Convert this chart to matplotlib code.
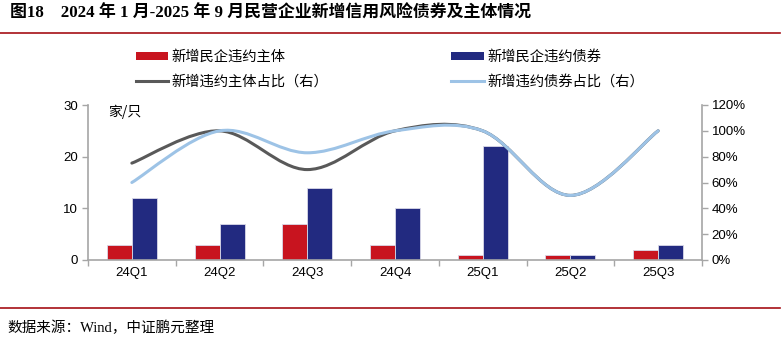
import matplotlib
matplotlib.use("Agg")
import matplotlib.pyplot as plt
import numpy as np
from matplotlib.path import Path
from matplotlib.patches import PathPatch
from matplotlib.lines import Line2D
from matplotlib.patches import Patch

plt.rcParams['font.family'] = ['Liberation Sans', 'Noto Sans CJK SC', 'DejaVu Sans']

categories = ['24Q1', '24Q2', '24Q3', '24Q4', '25Q1', '25Q2', '25Q3']
entities = [3, 3, 7, 3, 1, 1, 2]
bonds = [12, 7, 14, 10, 22, 1, 3]
entity_ratio = [75, 100, 70, 100, 100, 50, 100]
bond_ratio = [60, 100, 83, 100, 100, 50, 100]
left_ticks = [0, 10, 20, 30]
right_ticks = [0, 20, 40, 60, 80, 100, 120]

RED = '#C8141F'
NAVY = '#222A80'
GRAY = '#595959'
LBLUE = '#9DC3E6'
SPINE = '#A6A6A6'

fig = plt.figure(figsize=(7.82, 3.42), dpi=100)
ax = fig.add_axes([88/782, 1-260/342, (702-88)/782, (260-105)/342])
ax2 = ax.twinx()

x = np.arange(len(categories))
w = 0.285
ax.bar(x - w/2, entities, w, color=RED, edgecolor='#D9D9E8', linewidth=0.6, zorder=2)
ax.bar(x + w/2, bonds, w, color=NAVY, edgecolor='#D9D9E8', linewidth=0.6, zorder=2)

def smooth_path(xs, ys):
    xs = list(xs); ys = list(ys)
    n = len(xs)
    verts = [(xs[0], ys[0])]
    codes = [Path.MOVETO]
    for i in range(n - 1):
        p0 = (xs[max(i-1, 0)], ys[max(i-1, 0)])
        p1 = (xs[i], ys[i])
        p2 = (xs[i+1], ys[i+1])
        p3 = (xs[min(i+2, n-1)], ys[min(i+2, n-1)])
        c1 = (p1[0] + (p2[0]-p0[0])/6, p1[1] + (p2[1]-p0[1])/6)
        c2 = (p2[0] - (p3[0]-p1[0])/6, p2[1] - (p3[1]-p1[1])/6)
        verts += [c1, c2, p2]
        codes += [Path.CURVE4]*3
    return Path(verts, codes)

ax2.add_patch(PathPatch(smooth_path(x, entity_ratio), facecolor='none', edgecolor=GRAY, lw=2.2, zorder=3, capstyle='round'))
ax2.add_patch(PathPatch(smooth_path(x, bond_ratio), facecolor='none', edgecolor=LBLUE, lw=2.2, zorder=4, capstyle='round'))

ax.set_xlim(-0.5, len(categories) - 0.5)
ax.set_ylim(0, 30)
ax2.set_ylim(0, 120)
ax.set_yticks(left_ticks)
ax.set_yticklabels([str(t) for t in left_ticks], fontsize=9.5)
ax2.set_yticks(right_ticks)
ax2.set_yticklabels([f'{t}%' for t in right_ticks], fontsize=9.5)
ax.set_xticks(x)
ax.set_xticklabels(categories, fontsize=9.5)
ax.set_xticks(np.arange(-0.5, len(categories)), minor=True)
ax.tick_params(axis='x', which='major', length=0, pad=5)
ax.tick_params(axis='x', which='minor', length=4, color=SPINE, width=1)
ax.tick_params(axis='y', length=4, color=SPINE, width=1, pad=3)
ax2.tick_params(axis='y', length=4, color=SPINE, width=1, pad=3)

for a in (ax, ax2):
    a.spines['top'].set_visible(False)
    for s in ('left', 'right', 'bottom'):
        a.spines[s].set_color(SPINE)
        a.spines[s].set_linewidth(1.2)
ax.spines['right'].set_visible(False)
ax2.spines['left'].set_visible(False)
ax2.spines['bottom'].set_visible(False)

fig.text(108/782, 1-112/342, '家/只', fontsize=10, va='center', ha='left',
         family=['Noto Sans CJK SC', 'DejaVu Sans'])

handles = [Patch(facecolor=RED, edgecolor='none'),
           Line2D([0], [0], color=GRAY, lw=2.2),
           Patch(facecolor=NAVY, edgecolor='none'),
           Line2D([0], [0], color=LBLUE, lw=2.2)]
labels = ['新增民企违约主体', '新增违约主体占比（右）', '新增民企违约债券', '新增违约债券占比（右）']
fig.legend(handles, labels, ncol=2, loc='upper left', bbox_to_anchor=(123/782, 1-37/342),
           frameon=False, handlelength=2.25, handleheight=0.45, handletextpad=0.25,
           columnspacing=8.6, labelspacing=0.75,
           prop={'family': ['Noto Sans CJK SC', 'DejaVu Sans'], 'size': 10.3})

fig.text(10/782, 1-14/342, '图18    2024 年 1 月-2025 年 9 月民营企业新增信用风险债券及主体情况',
         fontsize=12.2, fontweight='bold', va='center', ha='left',
         family=['Liberation Serif', 'Noto Sans CJK SC'])
fig.add_artist(Line2D([0, 780/782], [1-33/342, 1-33/342], color='#A50F15', lw=1.2, transform=fig.transFigure))
fig.add_artist(Line2D([0, 780/782], [1-308/342, 1-308/342], color='#A50F15', lw=1.2, transform=fig.transFigure))
fig.text(7/782, 1-328/342, '数据来源：Wind，中证鹏元整理', fontsize=10.5, va='center', ha='left',
         family=['Liberation Serif', 'Noto Sans CJK SC', 'DejaVu Sans'])

fig.savefig('out.png', dpi=100)
